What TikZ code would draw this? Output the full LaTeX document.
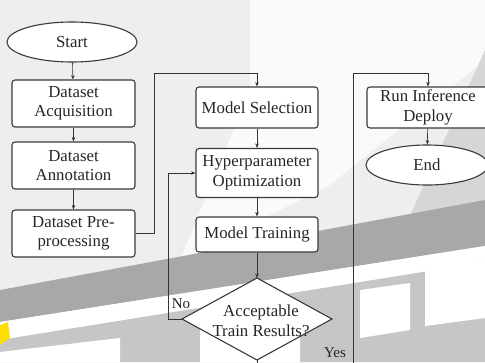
\documentclass[tikz,border=0pt]{standalone}
\usepackage{fontspec}
\setmainfont{Liberation Serif}
\usetikzlibrary{arrows.meta,shapes.geometric}
\definecolor{bgl}{HTML}{ECEEF0}
\definecolor{bandg}{HTML}{A6A8AA}
\definecolor{midg}{HTML}{C4C6C8}
\definecolor{edge}{HTML}{3A3A3A}
\tikzset{
  x=1pt,y=-1pt,
  every node/.style={font=\fontsize{16.8}{19.5}\selectfont, text=black!85},
  box/.style={draw=edge, line width=1.1pt, rounded corners=3pt, fill=white, align=center, inner sep=0pt},
  oval/.style={draw=edge, line width=1.1pt, ellipse, fill=white, inner sep=0pt},
  arr/.style={draw=black!80, line width=0.6pt, -{Stealth[length=4.5pt,width=3.5pt]}},
  ln/.style={draw=black!80, line width=0.6pt},
  lbl/.style={font=\fontsize{15}{17}\selectfont, inner sep=0pt}
}
\begin{document}
\begin{tikzpicture}
\useasboundingbox (0,0) rectangle (485,362);
\clip (0,0) rectangle (485,362);
% background
\fill[bgl] (0,0) rectangle (485,362);
\fill[white!70!bgl] (250,0) -- (485,0) -- (485,60) -- (330,185) -- (180,260) -- (250,90) -- cycle;
\fill[midg!60!bgl] (485,50) -- (485,260) -- (390,260) -- cycle;
\fill[bandg] (0,290) -- (485,200) -- (485,246) -- (0,322) -- cycle;
\fill[white] (0,322) -- (485,246) -- (485,262) -- (0,340) -- cycle;
\fill[midg] (0,340) -- (485,262) -- (485,362) -- (0,362) -- cycle;
\fill[white] (360,290) -- (410,283) -- (410,330) -- (360,338) -- cycle;
\fill[white] (425,270) -- (485,262) -- (485,318) -- (425,326) -- cycle;
\fill[white] (200,330) -- (300,318) -- (300,362) -- (200,362) -- cycle;
\fill[white] (0,352) -- (120,338) -- (120,362) -- (0,362) -- cycle;
\fill[yellow!80!orange] (0,325) -- (8,322) -- (10,338) -- (0,345) -- cycle;

% nodes
\node[oval, minimum width=130pt, minimum height=40pt] (start) at (72,42) {Start};
\node[box, minimum width=123pt, minimum height=47pt] (acq) at (73.5,103.5) {Dataset\\Acquisition};
\node[box, minimum width=123pt, minimum height=47pt] (ann) at (73.5,165.5) {Dataset\\Annotation};
\node[box, minimum width=123pt, minimum height=47pt] (pre) at (73.5,233.5) {Dataset Pre-\\processing};

\node[box, minimum width=122pt, minimum height=41pt] (sel) at (257,107.5) {Model Selection};
\node[box, minimum width=122pt, minimum height=49pt] (hyp) at (257,173) {Hyperparameter\\Optimization};
\node[box, minimum width=122pt, minimum height=35pt] (trn) at (257,234.5) {Model Training};

\coordinate (dT) at (257,278);
\coordinate (dL) at (182,319);
\coordinate (dR) at (332,319);
\coordinate (dB) at (257,360);
\fill[white] (dT) -- (dR) -- (dB) -- (dL) -- cycle;
\draw[edge, line width=1.1pt, line join=miter] (dT) -- (dR) -- (dB) -- (dL) -- cycle;
\node[align=center, inner sep=0pt] (dec) at (261,321) {Acceptable\\Train Results?};

\node[box, minimum width=122pt, minimum height=41pt] (run) at (428,107.5) {Run Inference\\Deploy};
\node[oval, minimum width=122pt, minimum height=40pt] (end) at (427,165) {End};

% connectors
\draw[arr] (start) -- (acq);
\draw[arr] (acq) -- (ann);
\draw[arr] (ann) -- (pre);
\coordinate (j1) at (154,73);
\draw[arr] (pre.east) -| (j1) -| (sel.north);
\draw[arr] (sel) -- (hyp);
\draw[arr] (hyp) -- (trn);
\draw[arr] (trn) -- (dT);
\coordinate (j2) at (168,319);
\draw[arr] (dL) -- (j2) |- (hyp.west);
\coordinate (j3) at (353,380);
\coordinate (j4) at (353,73);
\draw[arr] (dB) |- (j3) -- (j4) -| (run.north);
\draw[arr] (run) -- (end);

\node[lbl] (no) at (181,304) {No};
\node[lbl] (yes) at (335,353) {Yes};
\end{tikzpicture}
\end{document}
